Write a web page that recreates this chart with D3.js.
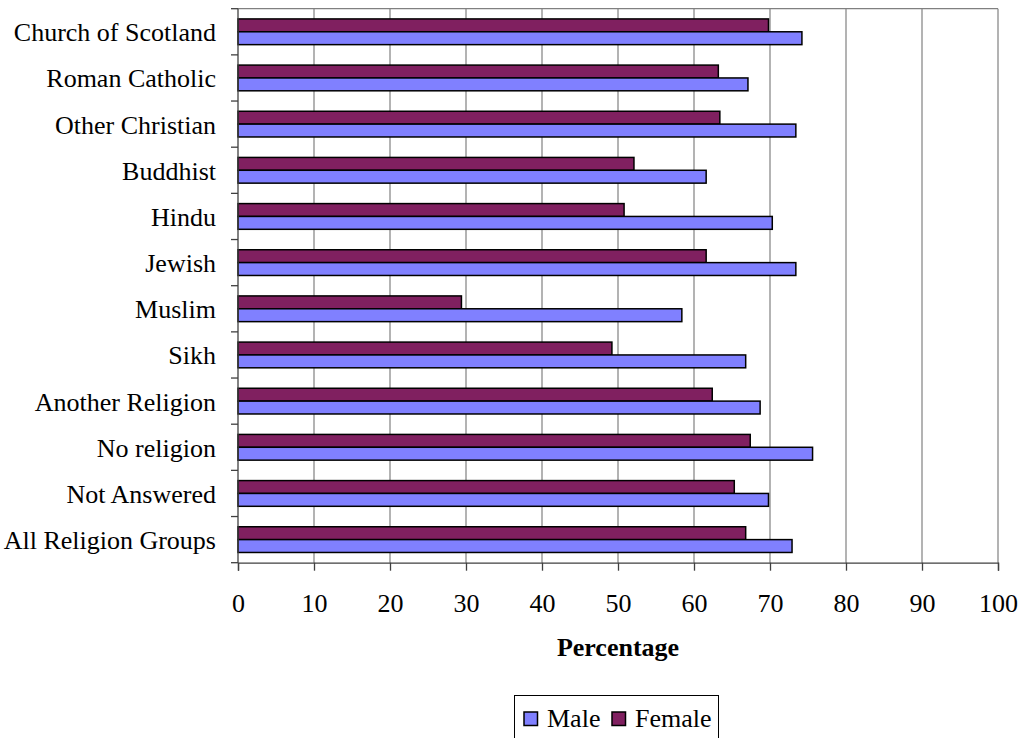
<!DOCTYPE html>
<html>
<head>
<meta charset="utf-8">
<script src="https://cdn.jsdelivr.net/npm/d3@7"></script>
<style>
  html, body { margin: 0; padding: 0; background: #ffffff; }
  svg { display: block; }
  text { font-family: "Liberation Serif", "Times New Roman", serif; fill: #000; }
</style>
</head>
<body>
<svg id="chart" width="1019" height="738"></svg>
<script>
// Religion groups, top to bottom
const categories = [
  "Church of Scotland", "Roman Catholic", "Other Christian", "Buddhist",
  "Hindu", "Jewish", "Muslim", "Sikh", "Another Religion",
  "No religion", "Not Answered", "All Religion Groups"
];
// Percentages by sex
const maleValues   = [74.2, 67.1, 73.4, 61.6, 70.3, 73.4, 58.4, 66.8, 68.7, 75.6, 69.8, 72.9];
const femaleValues = [69.8, 63.2, 63.4, 52.1, 50.8, 61.6, 29.4, 49.2, 62.4, 67.4, 65.3, 66.8];
const xTicks = [0, 10, 20, 30, 40, 50, 60, 70, 80, 90, 100];
const seriesNames = ["Male", "Female"];
const seriesColors = { Male: "#8080FF", Female: "#802060" };

const svg = d3.select("#chart");
const plot = { left: 238, right: 998, top: 8.7, bottom: 562.7 };

const x = d3.scaleLinear().domain([0, 100]).range([plot.left, plot.right]);
const y = d3.scaleBand().domain(categories)
  .range([plot.top, plot.bottom])
  .paddingInner(0.443).paddingOuter(0.2215);
// Female drawn above Male inside each group
const ySub = d3.scaleBand().domain(["Female", "Male"]).range([0, y.bandwidth()]);

// vertical gridlines
svg.append("g").selectAll("line").data(xTicks.slice(1)).join("line")
  .attr("x1", d => x(d)).attr("x2", d => x(d))
  .attr("y1", plot.top).attr("y2", plot.bottom)
  .attr("stroke", "#808080").attr("stroke-width", 1.2);
// top border of plot area
svg.append("line")
  .attr("x1", plot.left).attr("x2", plot.right)
  .attr("y1", plot.top).attr("y2", plot.top)
  .attr("stroke", "#808080").attr("stroke-width", 1.2);

// bars
const rows = categories.map((c, i) => ({ cat: c, Male: maleValues[i], Female: femaleValues[i] }));
const groups = svg.append("g").selectAll("g").data(rows).join("g")
  .attr("transform", d => `translate(0,${y(d.cat)})`);
groups.selectAll("rect")
  .data(d => ["Female", "Male"].map(k => ({ key: k, value: d[k] })))
  .join("rect")
  .attr("x", x(0))
  .attr("y", d => ySub(d.key))
  .attr("width", d => x(d.value) - x(0))
  .attr("height", ySub.bandwidth())
  .attr("fill", d => seriesColors[d.key])
  .attr("stroke", "#000")
  .attr("stroke-width", 1.5);

// category axis (left)
const yAxisG = svg.append("g");
yAxisG.append("line")
  .attr("x1", plot.left).attr("x2", plot.left)
  .attr("y1", plot.top).attr("y2", plot.bottom)
  .attr("stroke", "#404040").attr("stroke-width", 1.3);
const boundaries = d3.range(categories.length + 1).map(i => plot.top + i * y.step());
yAxisG.selectAll("line.tick").data(boundaries).join("line").attr("class", "tick")
  .attr("x1", plot.left - 7).attr("x2", plot.left)
  .attr("y1", d => d).attr("y2", d => d)
  .attr("stroke", "#404040").attr("stroke-width", 1.3);
yAxisG.selectAll("text").data(categories).join("text")
  .attr("x", 216)
  .attr("y", d => y(d) + y.bandwidth() / 2 + 9.5)
  .attr("text-anchor", "end")
  .style("font-size", "26px")
  .text(d => d);

// value axis (bottom)
const xAxis = d3.axisBottom(x).tickValues(xTicks).tickSize(8).tickPadding(0).tickFormat(d3.format("d"));
const xAxisG = svg.append("g").attr("transform", `translate(0,${plot.bottom})`).call(xAxis);
xAxisG.select(".domain").attr("stroke", "#404040").attr("stroke-width", 1.3);
xAxisG.selectAll(".tick line").attr("stroke", "#404040").attr("stroke-width", 1.3);
xAxisG.selectAll(".tick text")
  .attr("y", 49).attr("dy", null)
  .style("font-family", "'Liberation Serif', 'Times New Roman', serif")
  .style("font-size", "26px").attr("fill", "#000");

// axis title
svg.append("text")
  .attr("x", (plot.left + plot.right) / 2)
  .attr("y", 656)
  .attr("text-anchor", "middle")
  .style("font-size", "26px").style("font-weight", "bold")
  .text("Percentage");

// legend
const legend = svg.append("g");
legend.append("rect")
  .attr("x", 514.5).attr("y", 695.5).attr("width", 204).attr("height", 50)
  .attr("fill", "#fff").attr("stroke", "#000").attr("stroke-width", 1);
const legendX = { Male: 524, Female: 612 };
seriesNames.forEach(name => {
  legend.append("rect")
    .attr("x", legendX[name]).attr("y", 712).attr("width", 13.5).attr("height", 13.5)
    .attr("fill", seriesColors[name]).attr("stroke", "#000").attr("stroke-width", 1.5);
  legend.append("text")
    .attr("x", legendX[name] + 23).attr("y", 727)
    .style("font-size", "26px")
    .text(name);
});
</script>
</body>
</html>
